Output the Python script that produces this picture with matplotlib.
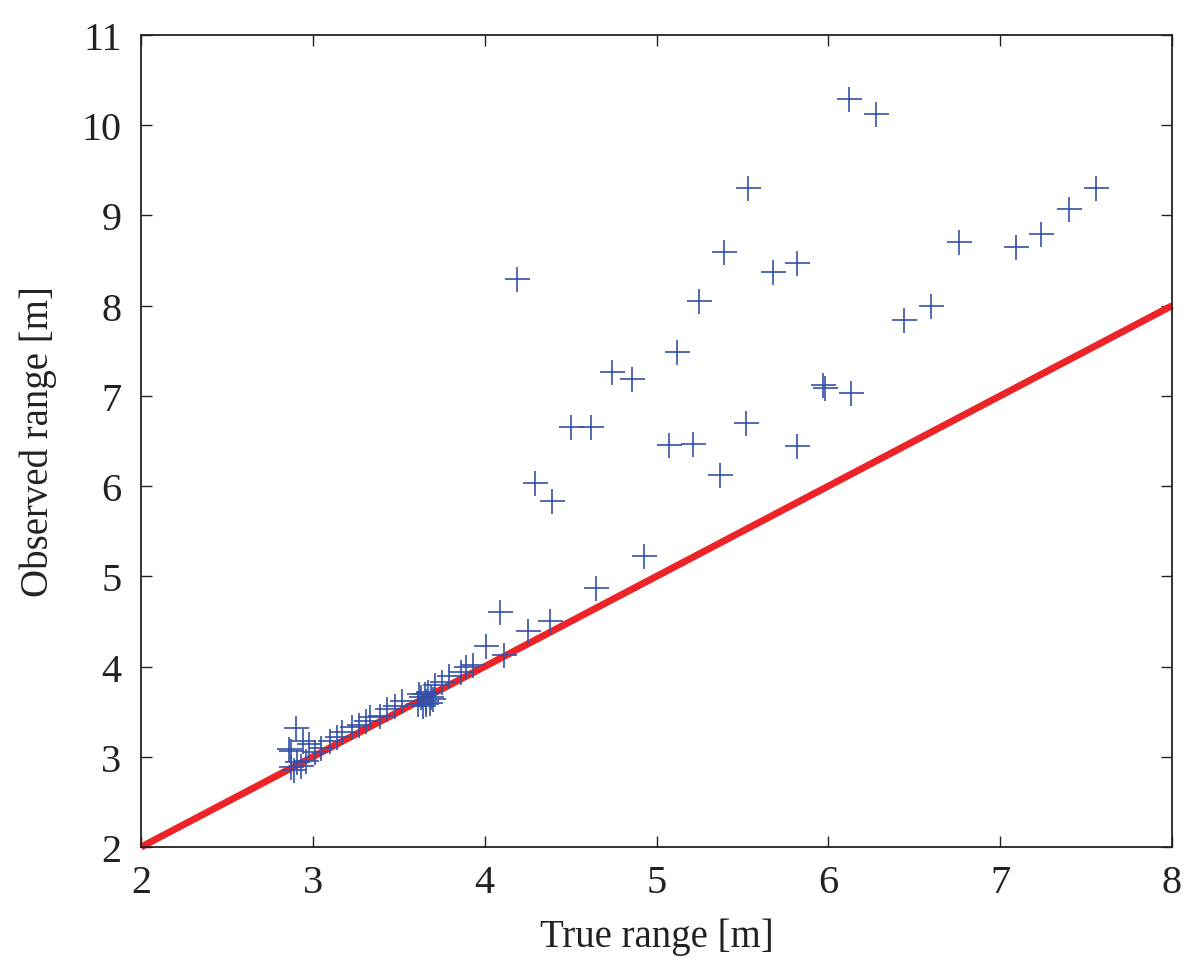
import numpy as np
import matplotlib.pyplot as plt

# true vs observed range [m]
true_range = [2.90, 2.86, 2.87, 2.94, 2.98, 3.01, 2.96, 2.91, 2.87, 2.89, 2.93,
              3.05, 3.10, 3.14, 3.17, 3.23, 3.27, 3.33, 3.31, 3.39, 3.43, 3.48,
              3.52, 3.61, 3.63, 3.64, 3.65, 3.66, 3.67, 3.68, 3.69, 3.70, 3.62,
              3.66, 3.71, 3.75, 3.79, 3.86, 3.89, 3.93, 4.01, 4.09, 4.11, 4.25,
              4.38, 4.65, 4.93, 4.29, 4.39, 4.50, 4.62, 5.07, 5.21, 5.37, 5.52,
              5.82, 5.97, 5.98, 6.13, 4.74, 4.86, 5.12, 4.19, 5.25, 5.39, 5.53,
              5.68, 5.82, 6.12, 6.28, 6.44, 6.60, 6.76, 7.09, 7.24, 7.40, 7.56]
observed_range = [3.32, 3.09, 3.06, 3.17, 3.14, 3.05, 2.95, 2.94, 2.89, 2.85, 2.90,
                  3.10, 3.18, 3.22, 3.27, 3.33, 3.35, 3.44, 3.40, 3.45, 3.53, 3.56,
                  3.62, 3.58, 3.66, 3.56, 3.70, 3.62, 3.72, 3.60, 3.66, 3.64, 3.70,
                  3.59, 3.80, 3.83, 3.90, 3.94, 3.99, 4.02, 4.23, 4.61, 4.13, 4.39,
                  4.50, 4.87, 5.23, 6.03, 5.83, 6.65, 6.66, 6.46, 6.47, 6.12, 6.70,
                  6.44, 7.12, 7.09, 7.03, 7.27, 7.19, 7.49, 8.30, 8.05, 8.60, 9.30,
                  8.37, 8.47, 10.29, 10.12, 7.84, 8.00, 8.70, 8.65, 8.79, 9.07, 9.30]
ideal = [2, 8]

plt.rcParams['font.family'] = ['Liberation Serif', 'DejaVu Serif']

fig = plt.figure(figsize=(12, 9.62), dpi=100)
ax = fig.add_axes([0.1175, 0.1185, 0.8592, 0.8441])

ax.plot(true_range, observed_range, '+', color='#3550a8', markersize=18,
        markeredgewidth=1.2, zorder=3)
ax.plot(ideal, ideal, '-', color='#ec2427', linewidth=5, zorder=2,
        solid_capstyle='butt', clip_on=False)

ax.set_xlim(2, 8)
ax.set_ylim(2, 11)
ax.set_xticks(np.arange(2, 9))
ax.set_yticks(np.arange(2, 12))
ax.tick_params(direction='in', length=8, width=1, labelsize=29,
               top=True, right=True, pad=14, colors='#222222')
ax.tick_params(axis='x', pad=12)
for s in ax.spines.values():
    s.set_linewidth(1.3)
    s.set_color('#222222')

ax.set_xlabel('True range [m]', fontsize=28, labelpad=12, color='#222222')
ax.set_ylabel('Observed range [m]', fontsize=28, labelpad=18, color='#222222')

fig.savefig('out.png', dpi=100)
